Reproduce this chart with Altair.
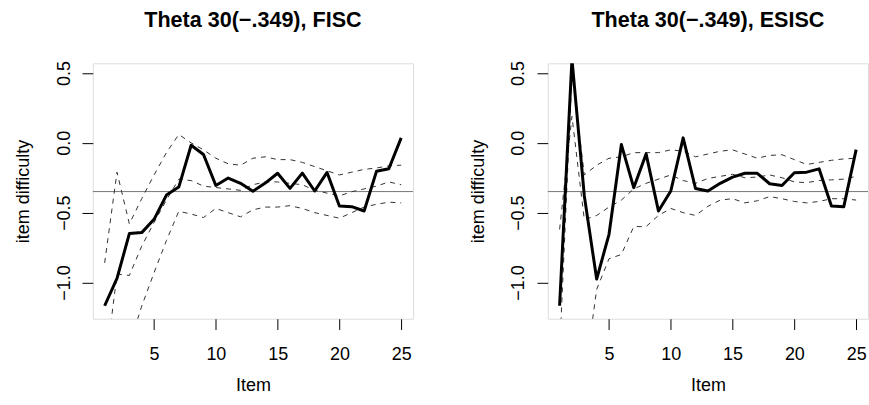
import altair as alt
import pandas as pd

FONT = "Liberation Sans"

items = list(range(1, 26))
theta = -0.349

# FISC panel
fisc_obs = [-1.167, -0.971, -0.650, -0.643, -0.548, -0.374, -0.317, -0.017, -0.083, -0.305,
            -0.252, -0.290, -0.347, -0.288, -0.218, -0.326, -0.217, -0.345, -0.212, -0.452,
            -0.457, -0.488, -0.204, -0.185, 0.036]
fisc_upper = [-0.86, -0.21, -0.58, -0.40, -0.23, -0.07, 0.06, 0.00, -0.05, -0.11,
              -0.15, -0.16, -0.11, -0.10, -0.12, -0.12, -0.14, -0.17, -0.20, -0.23,
              -0.21, -0.19, -0.18, -0.165, -0.16]
fisc_mid = [-1.65, -0.94, -0.95, -0.74, -0.57, -0.41, -0.26, -0.27, -0.31, -0.32,
            -0.33, -0.34, -0.30, -0.28, -0.28, -0.29, -0.30, -0.34, -0.36, -0.38,
            -0.35, -0.33, -0.31, -0.28, -0.30]
fisc_lower = [-2.6, -2.1, -1.45, -1.17, -0.93, -0.70, -0.49, -0.51, -0.535, -0.47,
              -0.50, -0.53, -0.48, -0.46, -0.46, -0.45, -0.47, -0.50, -0.52, -0.54,
              -0.50, -0.46, -0.44, -0.425, -0.43]

# ESISC panel
esisc_obs = [-1.167, 0.60, -0.38, -0.976, -0.655, -0.012, -0.321, -0.079, -0.488, -0.345,
             0.036, -0.327, -0.345, -0.290, -0.245, -0.218, -0.218, -0.293, -0.305, -0.214,
             -0.210, -0.186, -0.452, -0.457, -0.048]
esisc_upper = [-1.5, 0.50, -0.23, -0.16, -0.11, -0.10, -0.07, -0.07, -0.07, -0.05,
               -0.06, -0.10, -0.08, -0.06, -0.05, -0.08, -0.11, -0.09, -0.085, -0.12,
               -0.155, -0.14, -0.125, -0.115, -0.11]
esisc_mid = [-0.62, 0.19, -0.55, -0.52, -0.46, -0.41, -0.33, -0.29, -0.26, -0.23,
             -0.27, -0.29, -0.255, -0.24, -0.225, -0.25, -0.245, -0.23, -0.25, -0.28,
             -0.285, -0.27, -0.265, -0.26, -0.24]
esisc_lower = [-2.6, -2.2, -1.7, -1.05, -0.83, -0.80, -0.60, -0.60, -0.52, -0.47,
               -0.50, -0.52, -0.455, -0.41, -0.40, -0.43, -0.415, -0.385, -0.40, -0.42,
               -0.43, -0.42, -0.40, -0.40, -0.41]

x_ticks = [5, 10, 15, 20, 25]
y_ticks = [-1.0, -0.5, 0.0, 0.5]

W, H = 321, 256


def panel(title, obs, upper, mid, lower):
    df_obs = pd.DataFrame({"item": items, "value": obs})
    df_band = pd.DataFrame({
        "item": items * 3,
        "value": upper + mid + lower,
        "band": ["upper"] * 25 + ["mid"] * 25 + ["lower"] * 25,
    })
    df_h = pd.DataFrame({"value": [theta]})

    x = alt.X("item:Q",
              scale=alt.Scale(domain=[0.04, 25.96], nice=False, zero=False),
              axis=alt.Axis(values=x_ticks, title="Item", format="d",
                            tickSize=10.8, tickColor="black", tickWidth=1,
                            domain=False, grid=False,
                            labelFont=FONT, labelFontSize=18, labelColor="black",
                            labelPadding=16,
                            titleFont=FONT, titleFontSize=18, titleFontWeight="normal",
                            titleColor="black", titleY=72, titleBaseline="alphabetic"))
    y = alt.Y("value:Q",
              scale=alt.Scale(domain=[-1.26, 0.57], nice=False, zero=False),
              axis=alt.Axis(values=y_ticks, title="item difficulty", format=".1f",
                            tickSize=10.8, tickColor="black", tickWidth=1,
                            domain=False, grid=False,
                            labelFont=FONT, labelFontSize=18, labelColor="black",
                            labelAngle=270, labelAlign="center", labelBaseline="alphabetic",
                            labelPadding=13,
                            titleFont=FONT, titleFontSize=18, titleFontWeight="normal",
                            titleColor="black", titleAngle=270, titleX=-64, titleY=H / 2,
                            titleAlign="center", titleBaseline="alphabetic"))

    hline = alt.Chart(df_h).mark_rule(color="#777777", strokeWidth=1).encode(
        y=alt.Y("value:Q"))
    dashed = alt.Chart(df_band).mark_line(
        color="#333333", strokeWidth=1, strokeDash=[5, 5], clip=True
    ).encode(x=x, y=y, detail="band:N")
    solid = alt.Chart(df_obs).mark_line(
        color="black", strokeWidth=3, clip=True, strokeJoin="round"
    ).encode(x=x, y=y)

    return alt.layer(hline, dashed, solid).properties(
        width=W, height=H,
        title=alt.TitleParams(title, font=FONT, fontSize=21.6, fontWeight="bold",
                              color="black", anchor="middle", offset=12,
                              baseline="alphabetic"),
    )


left = panel("Theta 30(\u2212.349), FISC", fisc_obs, fisc_upper, fisc_mid, fisc_lower)
right = panel("Theta 30(\u2212.349), ESISC", esisc_obs, esisc_upper, esisc_mid, esisc_lower)

chart = alt.hconcat(left, right, spacing=135, bounds="flush").properties(
    padding={"left": 14, "top": 9, "right": 0, "bottom": 0}
).configure_view(stroke="black", strokeWidth=1).configure(background="white")

chart.save("out.html", embed_options={"renderer": "svg", "actions": False})
